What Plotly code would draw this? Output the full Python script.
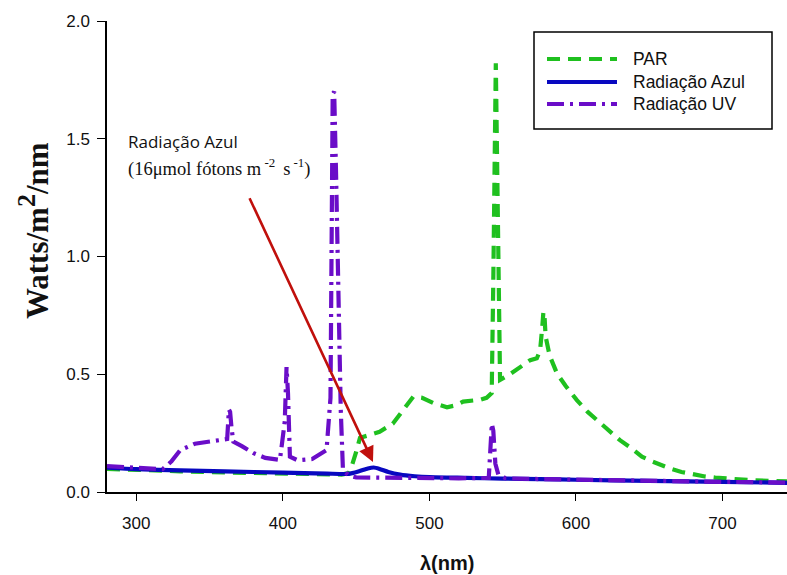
import plotly.graph_objects as go

# ---------------- data ----------------
par_x = [280, 300, 330, 360, 400, 440, 445, 447, 450, 452.6, 458, 466, 475, 482, 489, 495, 502.6, 512, 518, 523, 530, 535, 539,
         542.5, 543.6, 544.5, 545.3, 546.2, 547.2, 548.2, 555, 562, 568.8, 573.3, 575.5, 577, 577.8, 578.6, 579.3, 582, 587,
         593, 600.6, 608, 615, 622, 630, 638, 645, 652, 658, 665, 672, 680, 688, 695, 702, 710, 720, 732, 744]
par_y = [0.098, 0.093, 0.088, 0.083, 0.078, 0.074, 0.08, 0.11, 0.17, 0.23, 0.24, 0.256, 0.29, 0.35, 0.405, 0.40, 0.378, 0.36, 0.368, 0.384, 0.39, 0.392, 0.40,
         0.42, 0.9, 1.5, 1.82, 1.4, 0.8, 0.476, 0.50, 0.53, 0.56, 0.568, 0.60, 0.70, 0.766, 0.74, 0.66, 0.58, 0.504,
         0.45, 0.39, 0.34, 0.30, 0.26, 0.22, 0.185, 0.15, 0.13, 0.115, 0.098, 0.085, 0.074, 0.066, 0.061, 0.057, 0.054, 0.05, 0.047, 0.045]

azul_x = [280, 300, 330, 360, 400, 430, 445, 452, 458, 462, 466, 472, 480, 490, 500, 525, 550, 575, 600, 650, 700, 744]
azul_y = [0.103, 0.097, 0.092, 0.088, 0.082, 0.078, 0.077, 0.088, 0.100, 0.104, 0.098, 0.085, 0.074, 0.067, 0.063, 0.06, 0.057, 0.055, 0.052, 0.047, 0.043, 0.039]

uv_x = [280, 300, 318, 324, 330, 340, 350, 358, 362, 363.2, 364, 365, 366.2, 372, 380, 388, 398, 401.3, 402.5, 403.5, 404.8,
        410, 420, 429.8, 432.5, 434, 435, 436.3, 437.8, 439.5, 441, 445, 450, 470, 500, 520, 540.5, 541.6, 542.6, 543.6,
        545, 547, 552, 575, 600, 650, 700, 744]
uv_y = [0.110, 0.103, 0.097, 0.13, 0.178, 0.205, 0.215, 0.22, 0.225, 0.35, 0.34, 0.27, 0.214, 0.195, 0.165, 0.145, 0.136, 0.3, 0.53, 0.42, 0.15,
        0.135, 0.14, 0.178, 0.4, 1.69, 1.70, 1.35, 0.8, 0.35, 0.093, 0.07, 0.062, 0.06, 0.058, 0.058, 0.06, 0.18, 0.29, 0.26,
        0.12, 0.075, 0.058, 0.055, 0.052, 0.047, 0.043, 0.04]

series_names = ["PAR", "Radiação Azul", "Radiação UV"]
x_ticks = [300, 400, 500, 600, 700]
y_ticks = [0.0, 0.5, 1.0, 1.5, 2.0]

# arrow (data coordinates): from label to blue peak
arrow_from = (376.8, 1.254)
arrow_to = (461.5, 0.127)

# ---------------- styles ----------------
GREEN = "#1FC01F"
BLUE = "#0808C0"
PURPLE = "#6A0DC8"
RED = "#C0100C"
LW = 4.2
dash_par = "13px,8px"
dash_uv = "17px,6px,3px,6px"

W, H = 787, 575
L, R, T, B = 107, 0, 21, 83
PW, PH = W - L - R, H - T - B


def px(x):
    return (x - L) / PW


def py(y):
    return (H - B - y) / PH


fig = go.Figure()
fig.add_trace(go.Scatter(x=par_x, y=par_y, mode="lines", name=series_names[0],
                         line=dict(color=GREEN, width=LW, dash=dash_par)))
fig.add_trace(go.Scatter(x=azul_x, y=azul_y, mode="lines", name=series_names[1],
                         line=dict(color=BLUE, width=LW, shape="spline", smoothing=0.6)))
fig.add_trace(go.Scatter(x=uv_x, y=uv_y, mode="lines", name=series_names[2],
                         line=dict(color=PURPLE, width=LW, dash=dash_uv)))

shapes = []
annotations = []

# manual legend
shapes.append(dict(type="rect", xref="paper", yref="paper", x0=px(534), x1=px(772), y0=py(129), y1=py(32),
                   line=dict(color="black", width=1.5), fillcolor="white", layer="above"))
leg_rows = [59, 82, 104]
leg_styles = [(GREEN, dash_par), (BLUE, "solid"), (PURPLE, dash_uv)]
for name, yrow, (col, dsh) in zip(series_names, leg_rows, leg_styles):
    shapes.append(dict(type="line", xref="paper", yref="paper", x0=px(547), x1=px(617), y0=py(yrow), y1=py(yrow),
                       line=dict(color=col, width=LW, dash=dsh), layer="above"))
    annotations.append(dict(xref="paper", yref="paper", x=px(631), y=py(yrow), text=name, showarrow=False,
                            xanchor="left", yanchor="middle",
                            font=dict(family="Liberation Sans, Arial", size=17.5, color="#111")))

# arrow
annotations.append(dict(xref="x", yref="y", axref="x", ayref="y", x=arrow_to[0], y=arrow_to[1],
                        ax=arrow_from[0], ay=arrow_from[1], text="", showarrow=True,
                        arrowhead=2, arrowsize=1.2, arrowwidth=2.6, arrowcolor=RED))

# annotation text
annotations.append(dict(xref="paper", yref="paper", x=px(126), y=py(141), text="Radiação Azul", showarrow=False,
                        xanchor="left", yanchor="middle",
                        font=dict(family="Open Sans", size=17, color="#111")))
annotations.append(dict(xref="paper", yref="paper", x=px(126), y=py(167),
                        text="(16μmol fótons m<sup> -2 </sup> s<sup> -1</sup>)", showarrow=False,
                        xanchor="left", yanchor="middle",
                        font=dict(family="Liberation Serif, Times New Roman", size=18.5, color="#111")))

# axis titles
annotations.append(dict(xref="paper", yref="paper", x=px(33), y=py(231),
                        text="<b>Watts/m<sup><span style='font-size:26px'>2</span></sup>/nm</b>",
                        showarrow=False, textangle=-90, xanchor="center", yanchor="middle",
                        font=dict(family="Liberation Serif, Times New Roman", size=31, color="#111")))
annotations.append(dict(xref="paper", yref="paper", x=px(447), y=py(563), text="<b>λ(nm)</b>",
                        showarrow=False, xanchor="center", yanchor="middle",
                        font=dict(family="Liberation Sans, Arial", size=20, color="#111")))

fig.update_layout(
    width=W, height=H,
    margin=dict(l=L, r=R, t=T, b=B),
    paper_bgcolor="white", plot_bgcolor="white",
    showlegend=False,
    shapes=shapes, annotations=annotations,
    font=dict(family="Liberation Sans, Arial", size=17, color="#111"),
)
fig.update_xaxes(range=[280, 744], tickvals=x_ticks, ticks="outside", ticklen=7, tickwidth=1.3,
                 tickcolor="black", showline=True, linecolor="black", linewidth=1.5, showgrid=False,
                 zeroline=False, tickfont=dict(size=17), ticklabelstandoff=8)
fig.update_yaxes(range=[0, 2.0], tickvals=y_ticks, tickformat=".1f", ticks="outside", ticklen=8, tickwidth=1.3,
                 tickcolor="black", showline=True, linecolor="black", linewidth=1.5, showgrid=False,
                 zeroline=False, tickfont=dict(size=17), ticklabelstandoff=4)

fig.write_html("out.html")
